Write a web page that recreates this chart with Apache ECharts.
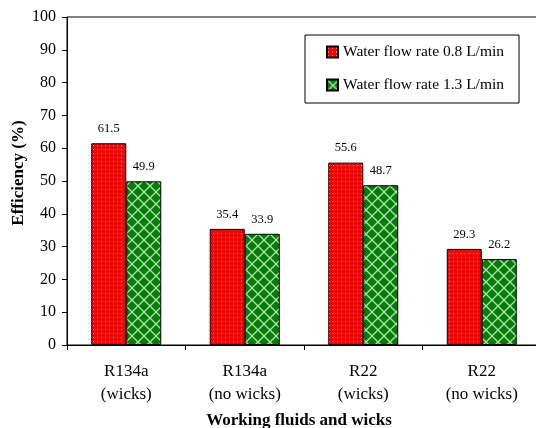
<!DOCTYPE html>
<html><head><meta charset="utf-8">
<script src="https://cdn.jsdelivr.net/npm/echarts@6/dist/echarts.min.js"></script>
<style>html,body{margin:0;padding:0;background:#fff}#c{width:536px;height:428px}</style>
</head><body><div id="c"></div>
<script>
const categories = ['R134a\n(wicks)', 'R134a\n(no wicks)', 'R22\n(wicks)', 'R22\n(no wicks)'];
const seriesNames = ['Water flow rate 0.8 L/min', 'Water flow rate 1.3 L/min'];
const flow08 = [61.5, 35.4, 55.6, 29.3];
const flow13 = [49.9, 33.9, 48.7, 26.2];

function dotPattern(){
  const c = document.createElement('canvas'); c.width = 4; c.height = 4;
  const g = c.getContext('2d');
  g.fillStyle = '#ff0000'; g.fillRect(0,0,4,4);
  g.fillStyle = '#ffd0d0'; g.fillRect(1,1,1,1);
  return c;
}
function crossPattern(){
  const s = 12;
  const c = document.createElement('canvas'); c.width = s; c.height = s;
  const g = c.getContext('2d');
  g.fillStyle = '#008000'; g.fillRect(0,0,s,s);
  g.strokeStyle = '#b8dcb8'; g.lineWidth = 1.3;
  g.beginPath();
  g.moveTo(0,0); g.lineTo(s,s);
  g.moveTo(s,0); g.lineTo(0,s);
  g.stroke();
  return c;
}

const chart = echarts.init(document.getElementById('c'));
const font = 'Liberation Serif';
const labelCfg = {show:true, position:'top', distance:8, color:'#000', fontFamily:font, fontSize:12.5};
chart.setOption({
  animation:false,
  textStyle:{fontFamily:font},
  grid:{left:67, top:17, width:474, height:328, show:true, borderColor:'#000', borderWidth:1,
        containLabel:false, outerBoundsMode:'none'},
  legend:{
    orient:'vertical', left:305, top:35,
    padding:[9,15,10,21], itemGap:17,
    borderColor:'#000', borderWidth:1, borderRadius:0,
    itemWidth:11, itemHeight:11, icon:'rect',
    textStyle:{fontFamily:font, fontSize:15.5, color:'#000'},
    data:seriesNames
  },
  xAxis:{
    type:'category', data:categories,
    name:'Working fluids and wicks', nameLocation:'middle', nameGap:67, nameMoveOverlap:false,
    nameTextStyle:{fontFamily:font, fontSize:17, fontWeight:'bold', color:'#000', padding:[0,0,0,-10]},
    axisLine:{lineStyle:{color:'#000', width:1}},
    axisTick:{show:true, length:5, inside:false, lineStyle:{color:'#000'}},
    axisLabel:{fontFamily:font, fontSize:17, color:'#000', lineHeight:23, margin:15}
  },
  yAxis:{
    type:'value', min:0, max:100, interval:10,
    name:'Efficiency (%)', nameLocation:'middle', nameGap:40, nameMoveOverlap:false,
    nameTextStyle:{fontFamily:font, fontSize:17, fontWeight:'bold', color:'#000', padding:[0,0,0,16]},
    axisLine:{show:true, lineStyle:{color:'#000'}},
    axisTick:{show:true, length:5, lineStyle:{color:'#000'}},
    axisLabel:{fontFamily:font, fontSize:16, color:'#000', margin:11},
    splitLine:{show:false}
  },
  series:[
    {name:seriesNames[0], type:'bar', data:flow08, barWidth:35, barGap:'0%',
     itemStyle:{color:{image:dotPattern(), repeat:'repeat'}, borderColor:'#000', borderWidth:1},
     label:labelCfg},
    {name:seriesNames[1], type:'bar', data:flow13, barWidth:35, barGap:'0%',
     itemStyle:{color:{image:crossPattern(), repeat:'repeat'}, borderColor:'#000', borderWidth:1},
     label:labelCfg}
  ]
});
</script></body></html>
